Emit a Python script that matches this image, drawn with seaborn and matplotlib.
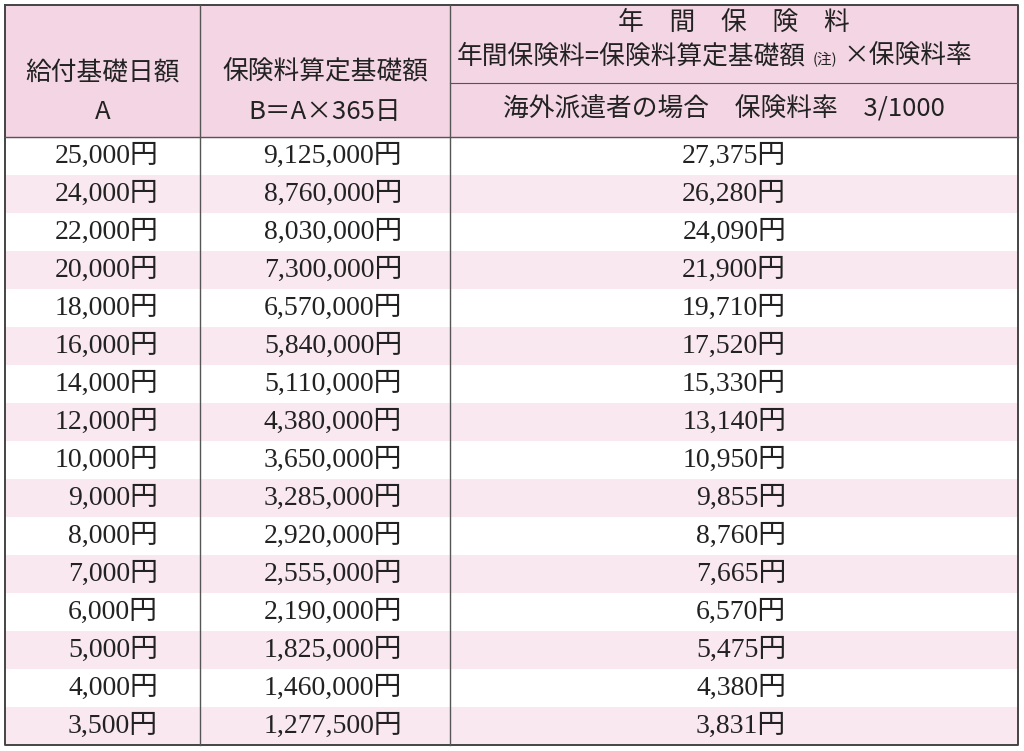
import numpy as np
import matplotlib
matplotlib.use("Agg")
import matplotlib.pyplot as plt
from matplotlib.colors import ListedColormap
import seaborn as sns

daily = ["25,000円","24,000円","22,000円","20,000円","18,000円","16,000円","14,000円","12,000円",
         "10,000円","9,000円","8,000円","7,000円","6,000円","5,000円","4,000円","3,500円"]
base = ["9,125,000円","8,760,000円","8,030,000円","7,300,000円","6,570,000円","5,840,000円",
        "5,110,000円","4,380,000円","3,650,000円","3,285,000円","2,920,000円","2,555,000円",
        "2,190,000円","1,825,000円","1,460,000円","1,277,500円"]
premium = ["27,375円","26,280円","24,090円","21,900円","19,710円","17,520円","15,330円","13,140円",
           "10,950円","9,855円","8,760円","7,665円","6,570円","5,475円","4,380円","3,831円"]

W, H = 1024, 751
L, R, T, HB, B = 5, 1018, 5, 137, 745
C1, C2, SUB = 200, 450, 83
HEAD = "#f3d5e3"
STRIPE = "#f9e8f0"
SANS = ["Noto Sans CJK JP"]
SERIF = ["Liberation Serif", "Noto Sans CJK JP"]

fig = plt.figure(figsize=(W/100, H/100), dpi=100)
bax = fig.add_axes([L/W, 1-B/H, (R-L)/W, (B-HB)/H])
stripes = np.array([[i % 2] for i in range(len(daily))])
sns.heatmap(stripes, ax=bax, cmap=ListedColormap(["white", STRIPE]), cbar=False,
            xticklabels=False, yticklabels=False)
bax.set_axis_off()

ax = fig.add_axes([0, 0, 1, 1], facecolor="none")
ax.set_xlim(0, W); ax.set_ylim(H, 0); ax.set_axis_off()
ax.add_patch(plt.Rectangle((L, T), R-L, HB-T, color=HEAD, zorder=0))

lc = "#555555"
ax.plot([L, R, R, L, L], [T, T, B, B, T], color="#444444", lw=1.4)
ax.plot([L, R], [HB, HB], color=lc, lw=1.0)
for x in (C1, C2):
    ax.plot([x, x], [T, B], color=lc, lw=1.0)
ax.plot([C2, R], [SUB, SUB], color=lc, lw=0.8)

tc = "#222222"
fs = 18.5
ax.text((L+C1)/2, 73, "給付基礎日額", ha="center", va="center", fontsize=fs, family=SANS, color=tc)
ax.text((L+C1)/2, 112, "A", ha="center", va="center", fontsize=fs, family=SANS, color=tc)
ax.text((C1+C2)/2, 73, "保険料算定基礎額", ha="center", va="center", fontsize=fs, family=SANS, color=tc)
ax.text((C1+C2)/2, 112, "B＝A×365日", ha="center", va="center", fontsize=fs, family=SANS, color=tc)
ax.text((C2+R)/2, 23, "年　間　保　険　料", ha="center", va="center", fontsize=fs, family=SANS, color=tc)
ax.text(457, 57, "年間保険料=保険料算定基礎額", ha="left", va="center", fontsize=fs, family=SANS, color=tc)
ax.text(813, 60, "(注)", ha="left", va="center", fontsize=10.5, family=SANS, color=tc)
ax.text(843, 57, "×保険料率", ha="left", va="center", fontsize=fs, family=SANS, color=tc)
ax.text(503, 109, "海外派遣者の場合　保険料率　3/1000", ha="left", va="center", fontsize=fs, family=SANS, color=tc)

rh = (B-HB)/len(daily)
for i in range(len(daily)):
    y = HB + rh*(i+0.5)
    ax.text(158, y, daily[i], ha="right", va="center", fontsize=20, family=SERIF, color=tc)
    ax.text(402, y, base[i], ha="right", va="center", fontsize=20, family=SERIF, color=tc)
    ax.text(786, y, premium[i], ha="right", va="center", fontsize=20, family=SERIF, color=tc)

fig.savefig("out.png", dpi=100)
